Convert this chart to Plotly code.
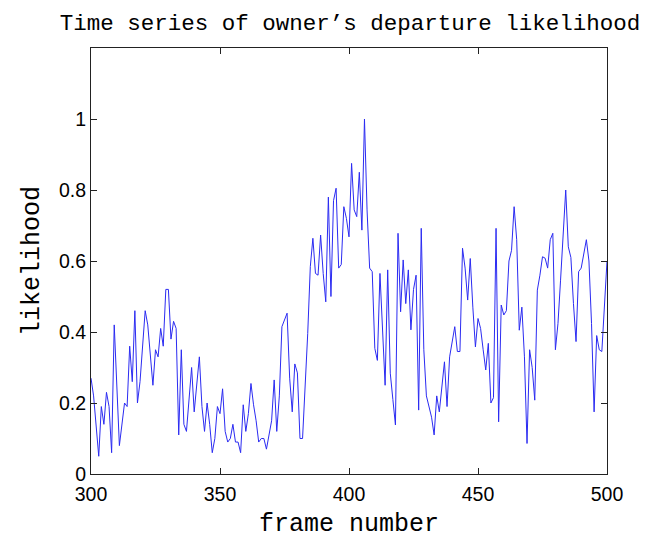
import plotly.graph_objects as go

frames = [300, 301, 303, 304, 305, 306, 307, 308, 309, 311, 313, 314, 315, 316, 317, 318, 319, 321, 322,
          324, 325, 326, 327, 328, 329, 330, 331, 332, 333, 334, 335, 336, 337, 339, 340, 342, 343, 344,
          345, 346, 347, 348, 349, 350, 351, 352, 353, 354, 355, 356, 357, 358, 359, 360, 361, 362, 363,
          364, 365, 366, 367, 368, 370, 371, 372, 373, 374, 376, 377, 378, 379, 380, 381, 382, 384, 385,
          386, 387, 388, 389, 390, 391, 392, 393, 394, 395, 396, 397, 398, 399, 400, 401, 402, 403, 404,
          405, 406, 407, 408, 409, 410, 411, 412, 414, 415, 416, 417, 418, 419, 420, 421, 422, 423, 424,
          425, 426, 427, 428, 429, 430, 432, 433, 434, 435, 437, 438, 439, 441, 442, 443, 444, 445, 446,
          447, 448, 449, 450, 451, 452, 453, 454, 455, 456, 457, 458, 459, 460, 461, 462, 463, 464, 465,
          466, 467, 468, 469, 470, 471, 472, 473, 474, 475, 476, 477, 478, 479, 480, 481, 482, 484, 485,
          486, 487, 488, 489, 490, 492, 493, 494, 495, 496, 497, 498, 499, 500]

likelihood = [0.27, 0.22, 0.05, 0.19, 0.14, 0.23, 0.19, 0.06, 0.42, 0.08, 0.20, 0.19, 0.36, 0.26, 0.46, 0.20,
              0.26, 0.46, 0.42, 0.25, 0.35, 0.33, 0.41, 0.36, 0.52, 0.52, 0.38, 0.43, 0.41, 0.11, 0.35, 0.14,
              0.12, 0.30, 0.175, 0.33, 0.19, 0.12, 0.20, 0.14, 0.06, 0.10, 0.19, 0.17, 0.24, 0.12, 0.09, 0.10,
              0.14, 0.09, 0.09, 0.06, 0.195, 0.12, 0.17, 0.255, 0.195, 0.15, 0.09, 0.10, 0.10, 0.07, 0.15,
              0.265, 0.12, 0.22, 0.415, 0.453, 0.27, 0.175, 0.31, 0.285, 0.10, 0.10, 0.396, 0.584, 0.664,
              0.565, 0.56, 0.673, 0.565, 0.485, 0.78, 0.50, 0.77, 0.805, 0.58, 0.59, 0.753, 0.72, 0.668,
              0.875, 0.744, 0.725, 0.85, 0.687, 1.0, 0.744, 0.58, 0.57, 0.354, 0.32, 0.565, 0.25, 0.575,
              0.284, 0.21, 0.138, 0.678, 0.457, 0.603, 0.48, 0.575, 0.406, 0.52, 0.56, 0.18, 0.692, 0.35,
              0.22, 0.16, 0.11, 0.22, 0.175, 0.316, 0.19, 0.33, 0.415, 0.345, 0.345, 0.636, 0.58, 0.49,
              0.607, 0.47, 0.358, 0.438, 0.41, 0.35, 0.293, 0.368, 0.20, 0.215, 0.692, 0.147, 0.476, 0.448,
              0.46, 0.60, 0.63, 0.753, 0.66, 0.405, 0.47, 0.33, 0.086, 0.35, 0.30, 0.208, 0.518, 0.56,
              0.612, 0.608, 0.58, 0.66, 0.678, 0.35, 0.424, 0.546, 0.80, 0.64, 0.61, 0.48, 0.373, 0.57,
              0.58, 0.66, 0.60, 0.424, 0.175, 0.39, 0.35, 0.345, 0.47, 0.60]

x_ticks = [300, 350, 400, 450, 500]
y_ticks = [0, 0.2, 0.4, 0.6, 0.8, 1.0]
y_tick_labels = ["0", "0.2", "0.4", "0.6", "0.8", "1"]

mono = "Liberation Mono, Courier New, monospace"
sans = "Liberation Sans, Arial, sans-serif"

fig = go.Figure()
fig.add_trace(go.Scatter(x=frames, y=likelihood, mode="lines",
                         line=dict(color="#2b2bf2", width=1), showlegend=False))

W, H = 640, 531
fig.update_layout(
    width=W, height=H,
    margin=dict(l=83, r=41, t=40, b=65),
    paper_bgcolor="white", plot_bgcolor="white",
    title=dict(text="Time series of owner\u2019s departure likelihood",
               x=342 / W, xanchor="center", y=1 - 14 / H, yanchor="middle",
               font=dict(family=mono, size=22.5, color="black")),
)
fig.update_xaxes(range=[300, 500], tickvals=x_ticks, ticks="inside", ticklen=6,
                 tickcolor="#222", showline=True, linecolor="#222", linewidth=1, mirror="ticks",
                 showgrid=False, zeroline=False, ticklabelstandoff=3, automargin=False,
                 tickfont=dict(family=sans, size=19.5, color="black"),
                 title=dict(text="frame number", standoff=12,
                            font=dict(family=mono, size=25, color="black")))
fig.update_yaxes(range=[0, 1.2], tickvals=y_ticks, ticktext=y_tick_labels, ticks="inside", ticklen=6,
                 tickcolor="#222", showline=True, linecolor="#222", linewidth=1, mirror="ticks",
                 showgrid=False, zeroline=False, automargin=False,
                 tickfont=dict(family=sans, size=19.5, color="black"),
                 title=dict(text="likelihood", standoff=12,
                            font=dict(family=mono, size=25, color="black")))

fig.write_html("out.html")
